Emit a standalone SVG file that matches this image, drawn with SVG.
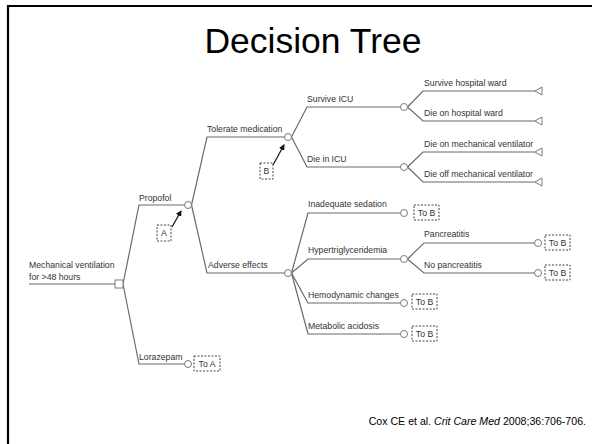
<svg xmlns="http://www.w3.org/2000/svg" width="592" height="444" viewBox="0 0 592 444">
<style>
.ln{fill:none;stroke:#6a6a6a;stroke-width:1.2}
.t{font-family:"Liberation Sans",Arial,sans-serif;font-size:8.7px;fill:#333}
.bt{font-family:"Liberation Sans",Arial,sans-serif;font-size:8.7px;fill:#333;text-anchor:middle}
.ch{fill:#fff;stroke:#7a7a7a;stroke-width:1}
.db{fill:#fff;stroke:#444;stroke-width:1;stroke-dasharray:2,1.5}
.ar{stroke:#111;stroke-width:1.2;fill:none}
</style>
<defs>
<marker id="ah" markerWidth="6" markerHeight="6" refX="5" refY="3" orient="auto" markerUnits="userSpaceOnUse">
<path d="M0,0 L6,3 L0,6 z" fill="#111"/>
</marker>
</defs>
<rect width="592" height="444" fill="#fff"/>
<path d="M8,444 V6 H592" fill="none" stroke="#000" stroke-width="2.2"/>
<text x="313" y="53" text-anchor="middle" font-family="Liberation Sans,Arial,sans-serif" font-size="35.5" fill="#000">Decision Tree</text>
<text x="586" y="425" text-anchor="end" font-family="Liberation Sans,Arial,sans-serif" font-size="10.6" fill="#000">Cox CE et al. <tspan font-style="italic">Crit Care Med</tspan> 2008;36:706-706.</text>

<g id="connectors">
<path class="ln" d="M29,284 H115"/>
<path class="ln" d="M123,284 L139,205 H184.5"/>
<path class="ln" d="M123,284 L139,364 H184.5"/>
<path class="ln" d="M191.5,205 L207,137 H284.5"/>
<path class="ln" d="M191.5,205 L207,273 H284.5"/>
<path class="ln" d="M291.5,137 L307,107 H400.5"/>
<path class="ln" d="M291.5,137 L307,167 H400.5"/>
<path class="ln" d="M407.5,107 L423,91 H535"/>
<path class="ln" d="M407.5,107 L423,121 H535"/>
<path class="ln" d="M407.5,167 L423,152 H535"/>
<path class="ln" d="M407.5,167 L423,182 H535"/>
<path class="ln" d="M291.5,273 L308,213 H400.5"/>
<path class="ln" d="M291.5,273 L308,259 H400.5"/>
<path class="ln" d="M291.5,273 L308,303 H400.5"/>
<path class="ln" d="M291.5,273 L308,334 H400.5"/>
<path class="ln" d="M407.5,259 L424,243 H534.5"/>
<path class="ln" d="M407.5,259 L424,273 H534.5"/>
<line class="ar" x1="172" y1="227" x2="181" y2="211" marker-end="url(#ah)"/>
<line class="ar" x1="273" y1="165" x2="284" y2="145" marker-end="url(#ah)"/>
</g>

<g id="root">
<rect x="115" y="280" width="8" height="8" class="ch"/>
<text class="t" x="29" y="268">Mechanical ventilation</text>
<text class="t" x="29" y="280">for &gt;48 hours</text>
</g>
<g id="propofol">
<circle cx="188" cy="205" r="3.5" class="ch"/>
<text class="t" x="139" y="201">Propofol</text>
</g>
<g id="lorazepam">
<circle cx="188" cy="364" r="3.5" class="ch"/>
<text class="t" x="139" y="360">Lorazepam</text>
<rect x="194" y="356" width="26" height="15" class="db"/>
<text class="bt" x="207" y="367">To A</text>
</g>
<g id="labelA">
<rect x="157" y="225" width="14" height="16" class="db"/>
<text class="bt" x="164" y="236">A</text>
</g>
<g id="labelB">
<rect x="260" y="163" width="13" height="16" class="db"/>
<text class="bt" x="266.5" y="174">B</text>
</g>
<g id="tolerate">
<circle cx="288" cy="137" r="3.5" class="ch"/>
<text class="t" x="207" y="132">Tolerate medication</text>
</g>
<g id="adverse">
<circle cx="288" cy="273" r="3.5" class="ch"/>
<text class="t" x="208" y="268">Adverse effects</text>
</g>
<g id="surviveICU">
<circle cx="404" cy="107" r="3.5" class="ch"/>
<text class="t" x="307" y="102">Survive ICU</text>
</g>
<g id="dieICU">
<circle cx="404" cy="167" r="3.5" class="ch"/>
<text class="t" x="307" y="162">Die in ICU</text>
</g>
<g id="surviveWard">
<path d="M535,91 L542,87 V95 Z" class="ch"/>
<text class="t" x="424" y="86">Survive hospital ward</text>
</g>
<g id="dieWard">
<path d="M535,121 L542,117 V125 Z" class="ch"/>
<text class="t" x="424" y="116">Die on hospital ward</text>
</g>
<g id="dieOnVent">
<path d="M535,152 L542,148 V156 Z" class="ch"/>
<text class="t" x="424" y="147">Die on mechanical ventilator</text>
</g>
<g id="dieOffVent">
<path d="M535,182 L542,178 V186 Z" class="ch"/>
<text class="t" x="424" y="177">Die off mechanical ventilator</text>
</g>
<g id="inadequate">
<circle cx="404" cy="213" r="3.5" class="ch"/>
<text class="t" x="308" y="207">Inadequate sedation</text>
<rect x="414" y="205" width="25" height="15" class="db"/>
<text class="bt" x="426.5" y="216">To B</text>
</g>
<g id="hypertrig">
<circle cx="404" cy="259" r="3.5" class="ch"/>
<text class="t" x="308" y="253">Hypertriglyceridemia</text>
</g>
<g id="pancreatitis">
<circle cx="538" cy="243" r="3.5" class="ch"/>
<text class="t" x="424" y="237">Pancreatitis</text>
<rect x="545" y="235" width="25" height="15" class="db"/>
<text class="bt" x="557.5" y="246">To B</text>
</g>
<g id="noPancreatitis">
<circle cx="538" cy="273" r="3.5" class="ch"/>
<text class="t" x="424" y="268">No pancreatitis</text>
<rect x="545" y="265" width="25" height="15" class="db"/>
<text class="bt" x="557.5" y="276">To B</text>
</g>
<g id="hemodynamic">
<circle cx="404" cy="303" r="3.5" class="ch"/>
<text class="t" x="308" y="298">Hemodynamic changes</text>
<rect x="412" y="294" width="25" height="15" class="db"/>
<text class="bt" x="424.5" y="305">To B</text>
</g>
<g id="metabolic">
<circle cx="404" cy="334" r="3.5" class="ch"/>
<text class="t" x="308" y="329">Metabolic acidosis</text>
<rect x="412" y="326" width="25" height="15" class="db"/>
<text class="bt" x="424.5" y="337">To B</text>
</g>
</svg>
